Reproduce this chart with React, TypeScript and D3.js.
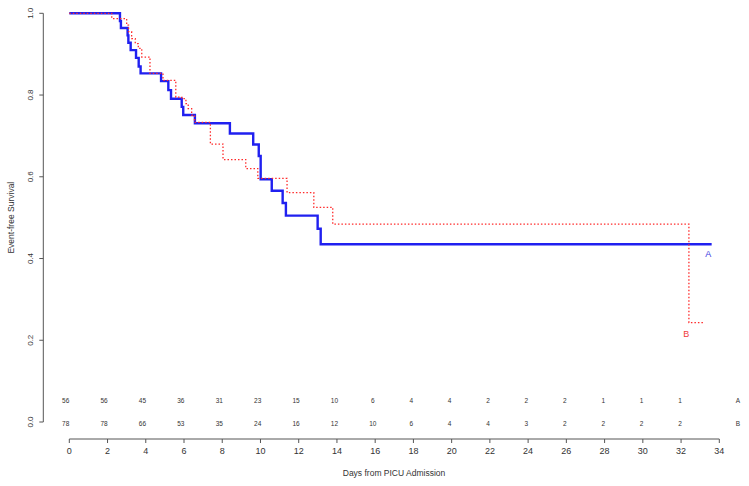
import React from "react";
import * as d3 from "d3";

const timesA = [0, 2.65, 2.7, 3.05, 3.09, 3.21, 3.49, 3.63, 3.73, 4.8, 5.18, 5.32, 5.88, 5.96, 6.57, 8.4, 9.62, 9.91, 10.01, 10.59, 11.16, 11.33, 12.99, 13.15, 33.6];
const survA = [1, 0.981, 0.964, 0.946, 0.928, 0.91, 0.891, 0.87, 0.853, 0.834, 0.812, 0.791, 0.771, 0.751, 0.731, 0.706, 0.679, 0.651, 0.594, 0.566, 0.536, 0.505, 0.473, 0.435, 0.435];

const timesB = [0, 2.22, 3.0, 3.1, 3.26, 3.45, 3.61, 3.79, 4.22, 4.9, 5.57, 5.88, 6.1, 6.22, 6.4, 6.55, 7.38, 8.04, 9.23, 9.86, 11.39, 12.79, 13.78, 32.41, 33.16];
const survB = [1, 0.987, 0.971, 0.955, 0.938, 0.926, 0.914, 0.893, 0.853, 0.836, 0.795, 0.791, 0.779, 0.767, 0.751, 0.733, 0.68, 0.642, 0.62, 0.596, 0.561, 0.525, 0.484, 0.243, 0.243];

const riskTimes = [0, 2, 4, 6, 8, 10, 12, 14, 16, 18, 20, 22, 24, 26, 28, 30, 32];
const riskA = [56, 56, 45, 36, 31, 23, 15, 10, 6, 4, 4, 2, 2, 2, 1, 1, 1];
const riskB = [78, 78, 66, 53, 35, 24, 16, 12, 10, 6, 4, 4, 3, 2, 2, 2, 2];

const xTicks = [0, 2, 4, 6, 8, 10, 12, 14, 16, 18, 20, 22, 24, 26, 28, 30, 32, 34];
const yTicks = [0, 0.2, 0.4, 0.6, 0.8, 1.0];

export default function App() {
  const W = 749, H = 486;
  const x = d3.scaleLinear().domain([0, 34]).range([69.3, 719.3]);
  const y = d3.scaleLinear().domain([0, 1]).range([422, 13.3]);
  const xRisk = d3.scaleLinear().domain([0, 32]).range([65.7, 680]);
  const line = d3
    .line<[number, number]>()
    .x((d) => x(d[0]))
    .y((d) => y(d[1]))
    .curve(d3.curveStepAfter);
  const dA = line(timesA.map((t, i) => [t, survA[i]] as [number, number])) || "";
  const dB = line(timesB.map((t, i) => [t, survB[i]] as [number, number])) || "";
  const axisColor = "#555";
  const textColor = "#333";
  const font = "Liberation Sans, Arial, sans-serif";
  const xAxisY = 439;
  const yAxisX = 43.3;
  const lastA = timesA[timesA.length - 1];
  const lastB = timesB[timesB.length - 1];

  return (
    <div style={{ position: "absolute", left: 0, top: 0 }}>
      <svg width={W} height={H} style={{ display: "block", background: "#fff" }} fontFamily={font}>
        {/* y axis */}
        <line x1={yAxisX} x2={yAxisX} y1={y(0)} y2={y(1)} stroke={axisColor} strokeWidth={1} />
        {yTicks.map((t) => (
          <g key={"yt" + t}>
            <line x1={yAxisX - 4} x2={yAxisX} y1={y(t)} y2={y(t)} stroke={axisColor} />
            <text
              transform={`translate(${yAxisX - 10},${y(t)}) rotate(-90)`}
              textAnchor="middle"
              fontSize={8}
              fill={textColor}
            >
              {t.toFixed(1)}
            </text>
          </g>
        ))}
        <text
          transform={`translate(14,${(y(0) + y(1)) / 2}) rotate(-90)`}
          textAnchor="middle"
          fontSize={8.5}
          fill={textColor}
        >
          Event-free Survival
        </text>

        {/* x axis */}
        <line x1={x(0)} x2={x(34)} y1={xAxisY} y2={xAxisY} stroke={axisColor} />
        {xTicks.map((t) => (
          <g key={"xt" + t}>
            <line x1={x(t)} x2={x(t)} y1={xAxisY} y2={xAxisY + 4} stroke={axisColor} />
            <text x={x(t)} y={xAxisY + 15} textAnchor="middle" fontSize={9} fill={textColor}>
              {t}
            </text>
          </g>
        ))}
        <text x={394} y={476} textAnchor="middle" fontSize={8.5} fill={textColor}>
          Days from PICU Admission
        </text>

        {/* numbers at risk */}
        {riskTimes.map((t, i) => (
          <g key={"r" + t}>
            <text x={xRisk(t)} y={403} textAnchor="middle" fontSize={6.5} fill={textColor}>
              {riskA[i]}
            </text>
            <text x={xRisk(t)} y={425.5} textAnchor="middle" fontSize={6.5} fill={textColor}>
              {riskB[i]}
            </text>
          </g>
        ))}
        <text x={738} y={403} textAnchor="middle" fontSize={6.5} fill={textColor}>A</text>
        <text x={738} y={425.5} textAnchor="middle" fontSize={6.5} fill={textColor}>B</text>

        {/* curves */}
        <path d={dA} fill="none" stroke="#2020f0" strokeWidth={2.4} />
        <path d={dB} fill="none" stroke="#ff2a2a" strokeWidth={1.3} strokeDasharray="1.5 2" />

        <text x={x(lastA) - 3.5} y={y(survA[survA.length - 1]) + 13} textAnchor="middle" fontSize={9} fill="#3a3ae0">A</text>
        <text x={x(lastB) - 17} y={y(survB[survB.length - 1]) + 14} textAnchor="middle" fontSize={9} fill="#f03a3a">B</text>
      </svg>
    </div>
  );
}
